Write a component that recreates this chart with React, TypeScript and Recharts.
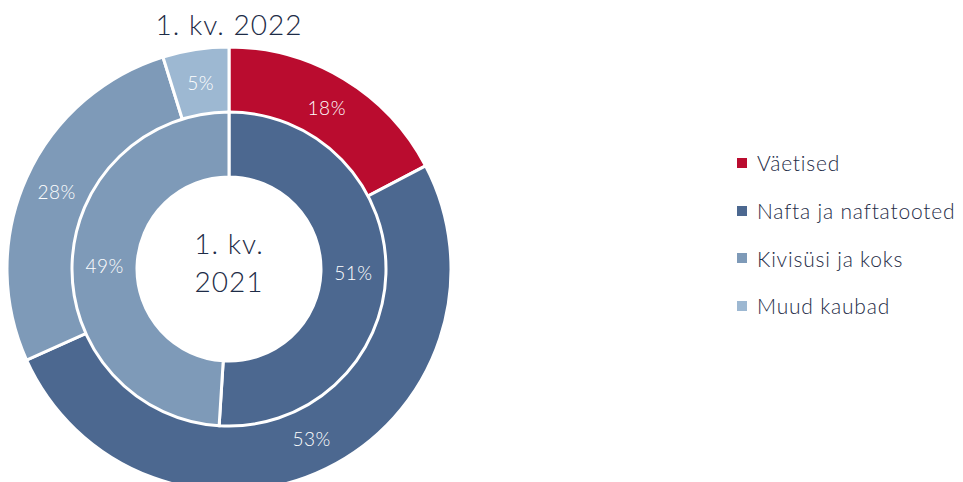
import React from 'react'
import { PieChart, Pie, Cell } from 'recharts'

const categories = ['Väetised', 'Nafta ja naftatooted', 'Kivisüsi ja koks', 'Muud kaubad']
const colors = ['#BA0C2F', '#4C6890', '#7E9AB8', '#9DB8D2']
const values2022 = [18, 53, 28, 5]
const innerCategories = ['Nafta ja naftatooted', 'Kivisüsi ja koks']
const values2021 = [51, 49]

const FONT = 'Lato, "Open Sans", sans-serif'
const TEXT = '#1E2C47'

const outerData = categories.map((name, i) => ({ name, value: values2022[i], color: colors[i] }))
const innerData = innerCategories.map((name, i) => ({
  name,
  value: values2021[i],
  color: colors[categories.indexOf(name)],
}))

const RAD = Math.PI / 180

const renderLabel = (p: any) => {
  const r = (p.innerRadius + p.outerRadius) / 2
  const x = p.cx + r * Math.cos(-p.midAngle * RAD)
  const y = p.cy + r * Math.sin(-p.midAngle * RAD)
  return (
    <text
      x={x}
      y={y}
      fill="#ffffff"
      textAnchor="middle"
      dominantBaseline="central"
      style={{ fontFamily: FONT, fontSize: 19, fontWeight: 300, letterSpacing: 0.5 }}
    >
      {p.value}%
    </text>
  )
}

export default function App() {
  return (
    <div style={{ position: 'absolute', left: 0, top: 0, width: 963, height: 482, background: '#fff' }}>
      <PieChart width={963} height={482} margin={{ top: 0, right: 0, bottom: 0, left: 0 }}>
        <Pie
          data={outerData}
          dataKey="value"
          nameKey="name"
          cx={229}
          cy={269}
          innerRadius={156}
          outerRadius={222}
          startAngle={90}
          endAngle={-270}
          stroke="#ffffff"
          strokeWidth={3}
          label={renderLabel}
          labelLine={false}
          isAnimationActive={false}
        >
          {outerData.map((d, i) => (
            <Cell key={i} fill={d.color} />
          ))}
        </Pie>
        <Pie
          data={innerData}
          dataKey="value"
          nameKey="name"
          cx={229}
          cy={269}
          innerRadius={92}
          outerRadius={157}
          startAngle={90}
          endAngle={-270}
          stroke="#ffffff"
          strokeWidth={3}
          label={renderLabel}
          labelLine={false}
          isAnimationActive={false}
        >
          {innerData.map((d, i) => (
            <Cell key={i} fill={d.color} />
          ))}
        </Pie>
      </PieChart>
      <div
        style={{
          position: 'absolute', left: 119, width: 220, top: 6, textAlign: 'center',
          fontFamily: FONT, fontWeight: 300, fontSize: 28, color: TEXT, lineHeight: '36px',
          letterSpacing: 1,
        }}
      >
        1. kv. 2022
      </div>
      <div
        style={{
          position: 'absolute', left: 149, width: 160, top: 224, textAlign: 'center',
          fontFamily: FONT, fontWeight: 300, fontSize: 28, color: TEXT, lineHeight: '38px',
          letterSpacing: 1,
        }}
      >
        1. kv.
        <br />
        2021
      </div>
      <div
        style={{
          position: 'absolute', left: 737, top: 139, width: 226,
          fontFamily: FONT, fontWeight: 300, fontSize: 21, color: TEXT, letterSpacing: 0.8,
          whiteSpace: 'nowrap',
        }}
      >
        {categories.map((c, i) => (
          <div key={c} style={{ display: 'flex', alignItems: 'center', height: 47.7 }}>
            <span style={{ width: 10, height: 10, background: colors[i], marginRight: 10, display: 'inline-block', flexShrink: 0 }} />
            <span>{c}</span>
          </div>
        ))}
      </div>
    </div>
  )
}
